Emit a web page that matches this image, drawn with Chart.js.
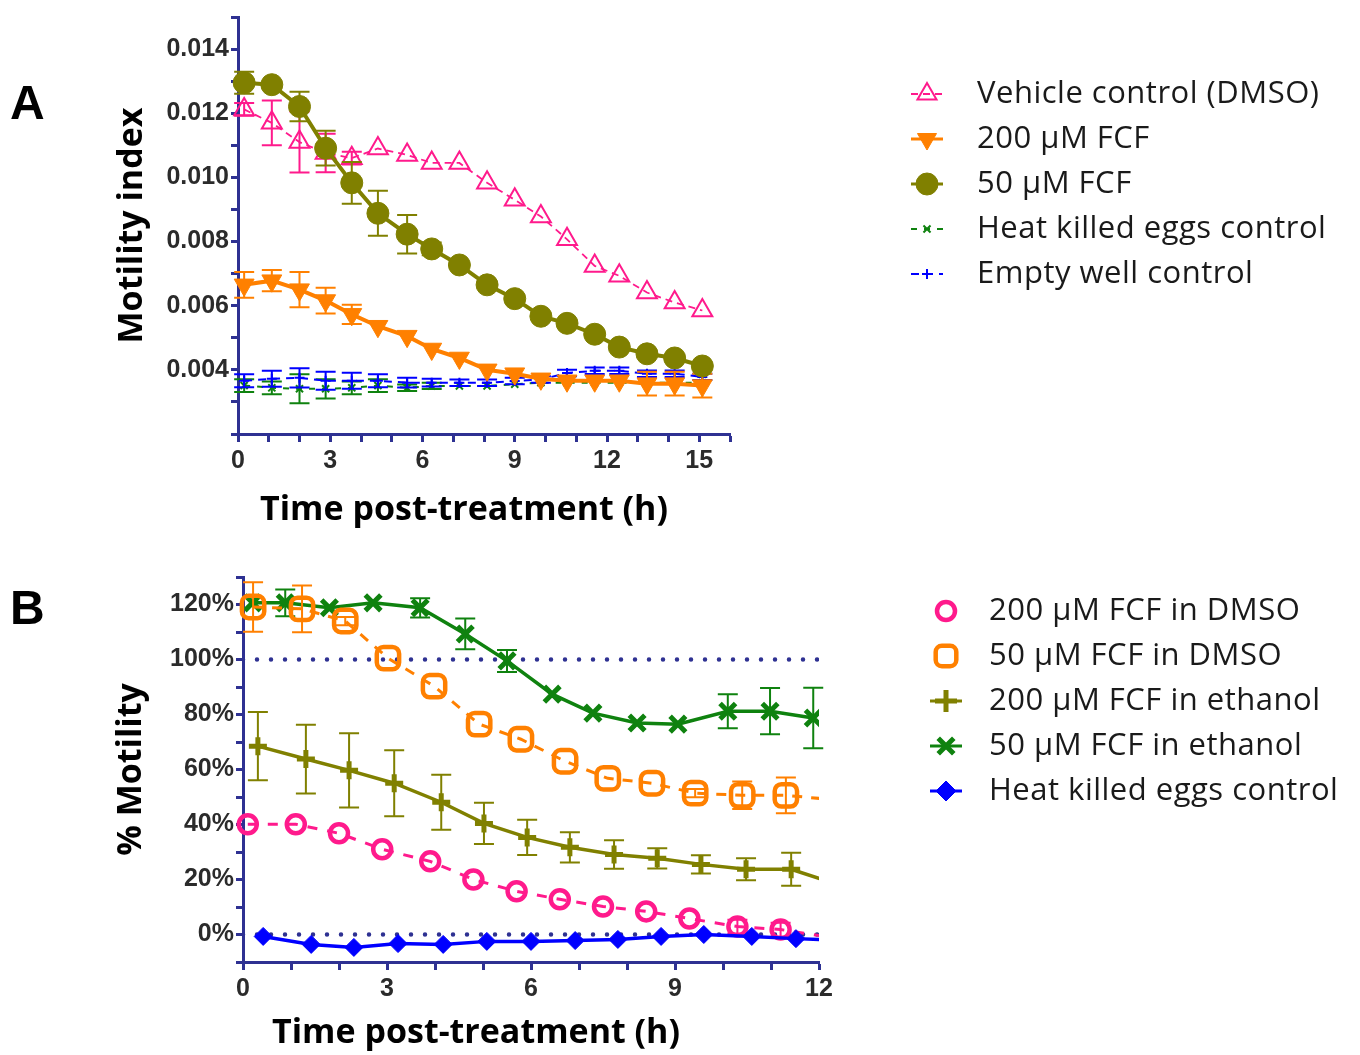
<!DOCTYPE html>
<html>
<head>
<meta charset="utf-8">
<script src="https://cdn.jsdelivr.net/npm/chart.js@4.4.1/dist/chart.umd.min.js"></script>
<style>
  body { margin: 0; background: #fff; }
  #wrap { position: relative; width: 1360px; height: 1055px; }
  #chartA { position: absolute; left: 0; top: 0; }
  #chartB { position: absolute; left: 0; top: 540px; }
  .letter { position: absolute; left: 10px; font: bold 48px "Liberation Sans", Arial, sans-serif; line-height: 1; color: #000; }
</style>
</head>
<body>
<div id="wrap">
  <canvas id="chartA" width="1360" height="540"></canvas>
  <canvas id="chartB" width="1360" height="515"></canvas>
  <div class="letter" style="top:79px">A</div>
  <div class="letter" style="top:584px">B</div>
</div>
<script>
// ---- Panel A : motility index ----
const timesA = [0.2, 1.1, 2.0, 2.85, 3.7, 4.55, 5.5, 6.3, 7.2, 8.1, 9.0, 9.85, 10.7, 11.6, 12.4, 13.3, 14.2, 15.1];
const vehicleA = [0.01212, 0.0117, 0.0111, 0.01076, 0.0106, 0.0109, 0.0107, 0.01045, 0.01045, 0.00983, 0.0093, 0.00878, 0.00807, 0.00724, 0.00693, 0.00641, 0.0061, 0.00585];
const vehicleErrA = [0.0002, 0.0007, 0.00095, 0.0006, 0.0002, 0, 0, 0, 0, 0, 0, 0, 0, 0, 0, 0, 0, 0];
const fcf200A = [0.00665, 0.00678, 0.0065, 0.00616, 0.00573, 0.00536, 0.00505, 0.00465, 0.00437, 0.004, 0.00388, 0.00372, 0.00366, 0.00366, 0.00366, 0.00357, 0.00357, 0.00351];
const fcf200ErrA = [0.0004, 0.00033, 0.00055, 0.0004, 0.0003, 0, 0, 0, 0, 0, 0, 0, 0, 0, 0, 0.00037, 0.00037, 0.00037];
const fcf50A = [0.01295, 0.01289, 0.01221, 0.01091, 0.00983, 0.00888, 0.00823, 0.00777, 0.00727, 0.00665, 0.00622, 0.00567, 0.00545, 0.00511, 0.00471, 0.0045, 0.00437, 0.00412];
const fcf50ErrA = [0.00034, 0.0001, 0.00046, 0.00054, 0.00065, 0.0007, 0.0006, 0.0002, 0, 0, 0, 0, 0, 0, 0, 0, 0, 0];
const heatA = [0.00351, 0.00344, 0.00341, 0.00341, 0.00344, 0.00351, 0.00344, 0.0035, 0.0035, 0.0035, 0.00355, 0.0036, 0.0036, 0.0036, 0.0036, 0.0036, 0.0036, 0.0036];
const heatErrA = [0.0002, 0.0002, 0.00045, 0.0003, 0.0002, 0.0002, 0.0001, 0.0001, 0, 0, 0, 0, 0, 0, 0, 0, 0, 0];
const emptyA = [0.00366, 0.00372, 0.00375, 0.00366, 0.00366, 0.00366, 0.0036, 0.0036, 0.0036, 0.0036, 0.00365, 0.0037, 0.0039, 0.00397, 0.00397, 0.00388, 0.00388, 0.00378];
const emptyErrA = [0.0002, 0.00025, 0.0003, 0.00028, 0.00025, 0.0002, 0.00015, 0.00012, 0.0001, 0.0001, 0.0001, 0.0001, 0.0001, 0.0001, 0.0001, 0.0001, 0.0001, 0.0001];
const labelsA = ['Vehicle control (DMSO)', '200 µM FCF', '50 µM FCF', 'Heat killed eggs control', 'Empty well control'];

// ---- Panel B : % motility ----
const dmso200T = [0.1, 1.1, 2.0, 2.9, 3.9, 4.8, 5.7, 6.6, 7.5, 8.4, 9.3, 10.3, 11.2, 12.15];
const dmso200B = [40.1, 40.1, 36.8, 31.0, 26.6, 20.0, 15.7, 12.8, 10.2, 8.4, 5.8, 2.9, 1.8, -0.8];
const dmso200Err = [0, 0, 0, 0, 0, 0, 0, 0, 0, 0, 0, 2.5, 2.5, 0];
const dmso50T = [0.21, 1.23, 2.13, 3.02, 3.98, 4.92, 5.79, 6.71, 7.6, 8.52, 9.42, 10.4, 11.31, 12.25];
const dmso50B = [119.1, 118.4, 114.0, 100.5, 90.3, 76.5, 71.0, 63.0, 56.8, 55.0, 51.4, 50.6, 50.6, 49.1];
const dmso50Err = [9, 8.5, 1.5, 0, 0, 0, 0, 0, 0, 0, 1.5, 5, 6.5, 0];
const eth200T = [0.31, 1.31, 2.21, 3.15, 4.13, 5.02, 5.92, 6.81, 7.73, 8.63, 9.54, 10.48, 11.42, 12.35];
const eth200B = [68.5, 63.8, 59.7, 55.0, 48.1, 40.4, 35.3, 31.7, 29.1, 27.7, 25.5, 23.7, 23.7, 18.4];
const eth200Err = [12.4, 12.5, 13.5, 12, 10, 7.5, 6.4, 5.5, 5.2, 3.7, 3.3, 4, 6, 0];
const eth50T = [0.2, 0.88, 1.8, 2.71, 3.69, 4.63, 5.5, 6.44, 7.29, 8.21, 9.06, 10.1, 10.98, 11.88];
const eth50B = [120.6, 120.6, 118.8, 120.6, 118.8, 109.3, 99.5, 87.4, 80.5, 76.9, 76.5, 81.2, 81.2, 78.7];
const eth50Err = [0, 4.9, 0, 0, 3.5, 5.6, 4, 0, 0, 0, 0, 6.2, 8.4, 11];
const heatT = [0.42, 1.42, 2.31, 3.23, 4.17, 5.08, 6.0, 6.92, 7.81, 8.71, 9.6, 10.6, 11.52, 12.45];
const heatB = [-0.7, -3.6, -4.7, -3.3, -3.6, -2.5, -2.5, -2.2, -1.8, -0.7, 0, -0.7, -1.5, -2.1];
const refT = [0, 12];
const ref100 = [100, 100];
const ref0 = [0, 0];
const labelsB = ['200 µM FCF in DMSO', '50 µM FCF in DMSO', '200 µM FCF in ethanol', '50 µM FCF in ethanol', 'Heat killed eggs control'];

const NAVY = '#2e3192';
const PINK = '#ff1a8c';
const ORANGE = '#ff8000';
const OLIVE = '#808000';
const GREEN = '#0f820f';
const BLUE = '#0000ff';
const tickFont = { family: '"Liberation Sans", Arial, sans-serif', size: 25, weight: 'bold' };
const titleFont = { family: '"Open Sans", sans-serif', size: 34, weight: 'bold' };
const legendFont = '31px "Open Sans", sans-serif';

function pts(xs, ys) {
  return ys.map((y, i) => ({ x: xs[i], y: y }));
}

// error bars, drawn just under each dataset's own markers
const errorBars = {
  id: 'errorBars',
  beforeDatasetDraw(chart, args) {
    const ds = chart.data.datasets[args.index];
    if (!ds.errors) return;
    const ctx = chart.ctx;
    const ys = chart.scales.y;
    ctx.save();
    ctx.strokeStyle = ds.borderColor;
    ctx.lineWidth = 2;
    args.meta.data.forEach((p, i) => {
      const e = ds.errors[i];
      if (!e || p.x > chart.chartArea.right) return;
      const v = ds.data[i].y;
      const t = ys.getPixelForValue(v + e);
      const b = ys.getPixelForValue(v - e);
      ctx.beginPath();
      ctx.moveTo(p.x, t); ctx.lineTo(p.x, b);
      ctx.moveTo(p.x - 10, t); ctx.lineTo(p.x + 10, t);
      ctx.moveTo(p.x - 10, b); ctx.lineTo(p.x + 10, b);
      ctx.stroke();
    });
    ctx.restore();
  }
};

// legend on the right side
const sideLegend = {
  id: 'sideLegend',
  afterDraw(chart, args, opts) {
    const ctx = chart.ctx;
    const items = chart.data.datasets.filter(d => d.label);
    ctx.save();
    items.forEach((ds, i) => {
      const y = opts.y + i * opts.gap;
      const x = opts.x;
      if (!opts.solidOnly || !ds.borderDash) {
        ctx.strokeStyle = ds.borderColor;
        ctx.lineWidth = Math.min(ds.borderWidth, 3);
        ctx.setLineDash(ds.borderDash || []);
        ctx.beginPath();
        ctx.moveTo(x - 16, y); ctx.lineTo(x + 16, y);
        ctx.stroke();
        ctx.setLineDash([]);
      }
      ctx.fillStyle = ds.pointBackgroundColor;
      ctx.strokeStyle = ds.pointBorderColor;
      ctx.lineWidth = ds.pointBorderWidth;
      Chart.helpers.drawPoint(ctx, {
        pointStyle: ds.pointStyle,
        radius: ds.legendRadius,
        rotation: ds.pointRotation || 0,
        borderWidth: ds.pointBorderWidth
      }, x, y);
      ctx.fillStyle = '#1a1a1a';
      ctx.font = legendFont;
      ctx.letterSpacing = '0.5px';
      ctx.textBaseline = 'middle';
      ctx.fillText(ds.label, opts.textX, y);
    });
    ctx.restore();
  }
};

// x axis title, placed where the original figure has it
const xTitle = {
  id: 'xTitle',
  afterDraw(chart, args, opts) {
    const ctx = chart.ctx;
    ctx.save();
    ctx.fillStyle = '#000';
    ctx.font = `bold ${titleFont.size}px ${titleFont.family}`;
    ctx.textAlign = 'center';
    ctx.textBaseline = 'middle';
    ctx.fillText(opts.text, opts.x, opts.y);
    ctx.restore();
  }
};

function axes(o) {
  return {
    x: {
      type: 'linear', min: o.xMin, max: o.xMax,
      afterFit: s => { s.height = o.xHeight; },
      border: { color: NAVY, width: 3 },
      grid: { drawOnChartArea: false, tickLength: 8, tickWidth: 3, tickColor: NAVY },
      ticks: {
        stepSize: 1, autoSkip: false, maxRotation: 0, padding: 4, color: '#2b2b2b', font: tickFont,
        callback: v => (v % 3 === 0 && v <= o.xLast) ? String(v) : ''
      }
    },
    y: {
      type: 'linear', min: o.yMin, max: o.yMax,
      afterFit: s => { s.width = o.yWidth; },
      border: { color: NAVY, width: 3 },
      grid: { drawOnChartArea: false, tickLength: 7, tickWidth: 3, tickColor: NAVY },
      ticks: { stepSize: o.yStep, autoSkip: false, padding: 2, color: '#2b2b2b', font: tickFont, callback: o.yLabel },
      title: { display: true, text: o.yTitle, color: '#000', font: titleFont, padding: { top: 2, bottom: 0 } }
    }
  };
}

const clipA = { left: 15, top: 15, right: 15, bottom: 15 };

new Chart(document.getElementById('chartA'), {
  type: 'line',
  data: {
    datasets: [
      { label: labelsA[0], data: pts(timesA, vehicleA), errors: vehicleErrA, order: 3,
        borderColor: PINK, borderWidth: 1.8, borderDash: [7, 5],
        pointStyle: 'triangle', pointRadius: 11.5, legendRadius: 11, pointBorderWidth: 2,
        pointBackgroundColor: 'rgba(255,255,255,0)', pointBorderColor: PINK, clip: clipA },
      { label: labelsA[1], data: pts(timesA, fcf200A), errors: fcf200ErrA, order: 2,
        borderColor: ORANGE, borderWidth: 4,
        pointStyle: 'triangle', pointRotation: 180, pointRadius: 11.5, legendRadius: 11, pointBorderWidth: 1,
        pointBackgroundColor: ORANGE, pointBorderColor: ORANGE, clip: clipA },
      { label: labelsA[2], data: pts(timesA, fcf50A), errors: fcf50ErrA, order: 1,
        borderColor: OLIVE, borderWidth: 4,
        pointStyle: 'circle', pointRadius: 11, legendRadius: 11, pointBorderWidth: 1,
        pointBackgroundColor: OLIVE, pointBorderColor: OLIVE, clip: clipA },
      { label: labelsA[3], data: pts(timesA, heatA), errors: heatErrA, order: 5,
        borderColor: GREEN, borderWidth: 2, borderDash: [6, 7],
        pointStyle: 'crossRot', pointRadius: 5, legendRadius: 5, pointBorderWidth: 2,
        pointBackgroundColor: GREEN, pointBorderColor: GREEN, clip: clipA },
      { label: labelsA[4], data: pts(timesA, emptyA), errors: emptyErrA, order: 4,
        borderColor: BLUE, borderWidth: 2, borderDash: [8, 6],
        pointStyle: 'cross', pointRadius: 5, legendRadius: 5, pointBorderWidth: 2,
        pointBackgroundColor: BLUE, pointBorderColor: BLUE, clip: clipA }
    ]
  },
  options: {
    responsive: false,
    animation: false,
    layout: { padding: { left: 110, right: 630, top: 12, bottom: 8 } },
    elements: { line: { tension: 0 } },
    scales: axes({
      xMin: 0, xMax: 16, xLast: 15, xHeight: 98,
      yMin: 0.002, yMax: 0.015, yStep: 0.001, yWidth: 128, yTitle: 'Motility index',
      yLabel: v => {
        const k = Math.round(v * 1000);
        return (k % 2 === 0 && k >= 4 && k <= 14) ? (k / 1000).toFixed(3) : '';
      }
    }),
    plugins: {
      legend: { display: false },
      tooltip: { enabled: false },
      sideLegend: { x: 927, textX: 977, y: 94, gap: 45 },
      xTitle: { text: 'Time post-treatment (h)', x: 464, y: 510 }
    }
  },
  plugins: [errorBars, sideLegend, xTitle]
});

// hide markers for the points that lie past the end of the x axis
const inRange = r => ctx => (ctx.raw && ctx.raw.x > 12 ? 0 : r);
const clipB = { left: 15, top: 15, right: 0, bottom: 15 };

new Chart(document.getElementById('chartB'), {
  type: 'line',
  data: {
    datasets: [
      { label: labelsB[0], data: pts(dmso200T, dmso200B), errors: dmso200Err, order: 3,
        borderColor: PINK, borderWidth: 3, borderDash: [10, 10],
        pointStyle: 'circle', pointRadius: inRange(9), legendRadius: 9, pointBorderWidth: 4.5,
        pointBackgroundColor: 'rgba(255,255,255,0)', pointBorderColor: PINK, clip: clipB },
      { label: labelsB[1], data: pts(dmso50T, dmso50B), errors: dmso50Err, order: 2,
        borderColor: ORANGE, borderWidth: 3, borderDash: [10, 9],
        pointStyle: 'rectRounded', pointRadius: inRange(13), legendRadius: 12, pointBorderWidth: 4.5,
        pointBackgroundColor: 'rgba(255,255,255,0)', pointBorderColor: ORANGE, clip: clipB },
      { label: labelsB[2], data: pts(eth200T, eth200B), errors: eth200Err, order: 4,
        borderColor: OLIVE, borderWidth: 3.5,
        pointStyle: 'cross', pointRadius: inRange(9), legendRadius: 11, pointBorderWidth: 5,
        pointBackgroundColor: OLIVE, pointBorderColor: OLIVE, clip: clipB },
      { label: labelsB[3], data: pts(eth50T, eth50B), errors: eth50Err, order: 5,
        borderColor: GREEN, borderWidth: 3.5,
        pointStyle: 'crossRot', pointRadius: inRange(11), legendRadius: 11, pointBorderWidth: 5,
        pointBackgroundColor: GREEN, pointBorderColor: GREEN, clip: clipB },
      { label: labelsB[4], data: pts(heatT, heatB), order: 1,
        borderColor: BLUE, borderWidth: 3.5,
        pointStyle: 'rectRot', pointRadius: inRange(9), legendRadius: 10, pointBorderWidth: 1,
        pointBackgroundColor: BLUE, pointBorderColor: BLUE, clip: clipB },
      { data: pts(refT, ref100), order: 9, borderColor: NAVY, borderWidth: 4.5,
        borderDash: [0, 14], borderCapStyle: 'round', pointRadius: 0 },
      { data: pts(refT, ref0), order: 9, borderColor: NAVY, borderWidth: 4.5,
        borderDash: [0, 14], borderCapStyle: 'round', pointRadius: 0 }
    ]
  },
  options: {
    responsive: false,
    animation: false,
    layout: { padding: { left: 109, right: 541, top: 37, bottom: 0 } },
    elements: { line: { tension: 0 } },
    scales: axes({
      xMin: 0, xMax: 12, xLast: 12, xHeight: 93,
      yMin: -10, yMax: 130, yStep: 10, yWidth: 134, yTitle: '% Motility',
      yLabel: v => (v % 20 === 0 && v >= 0 && v <= 120) ? v + '%' : ''
    }),
    plugins: {
      legend: { display: false },
      tooltip: { enabled: false },
      sideLegend: { x: 946, textX: 989, y: 71, gap: 45, solidOnly: true },
      xTitle: { text: 'Time post-treatment (h)', x: 476, y: 493 }
    }
  },
  plugins: [errorBars, sideLegend, xTitle]
});
</script>
</body>
</html>
